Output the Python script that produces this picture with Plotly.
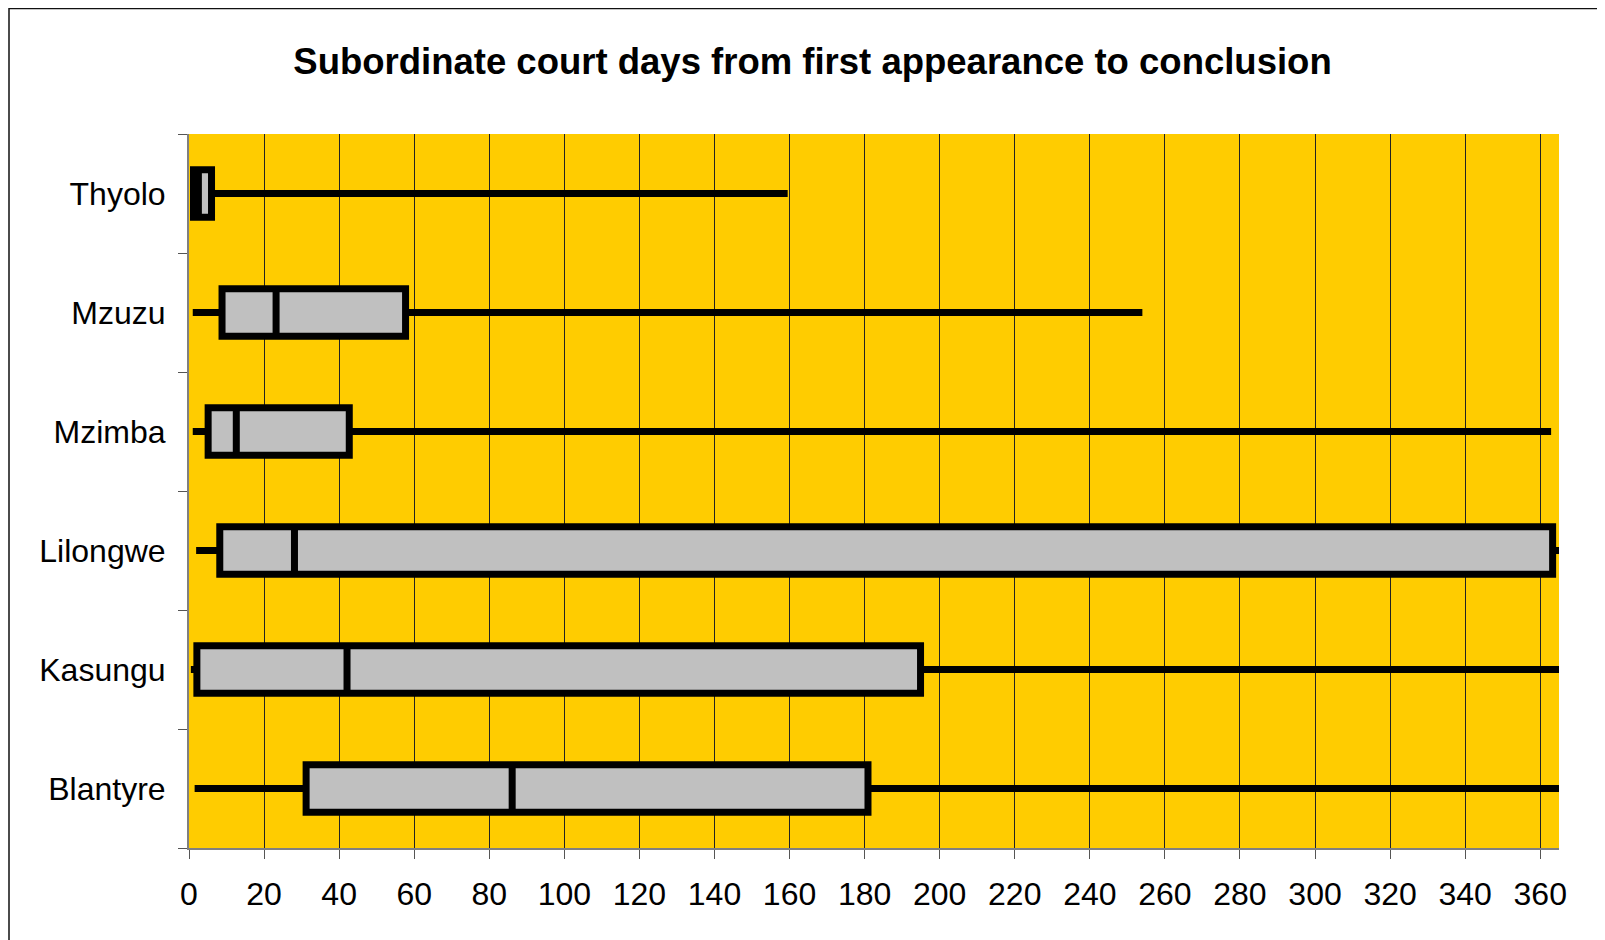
import plotly.graph_objects as go

# Courts listed bottom-to-top (first category is drawn at the bottom)
courts = ["Blantyre", "Kasungu", "Lilongwe", "Mzimba", "Mzuzu", "Thyolo"]
min_days = [1.5, 0.5, 1.9, 1.0, 1.0, 0.8]
q1_days = [31.2, 2.1, 8.2, 5.1, 8.8, 1.2]
median_days = [86.1, 42.1, 28.1, 12.6, 23.2, 2.5]
q3_days = [180.9, 194.9, 363.3, 42.7, 57.7, 6.0]
max_days = [400.0, 400.0, 400.0, 362.9, 254.0, 159.5]

x_ticks = list(range(0, 361, 20))

# page body has an 8px margin, so the figure is slightly smaller than the window
W, H = 1597, 932
ML, MR, MT, MB = 181, 46, 126, 92
PW, PH = W - ML - MR, H - MT - MB

fig = go.Figure()
fig.add_trace(go.Box(
    y=courts,
    q1=q1_days, median=median_days, q3=q3_days,
    lowerfence=min_days, upperfence=max_days,
    orientation="h",
    boxpoints=False,
    whiskerwidth=0,
    width=0.4,
    fillcolor="#C0C0C0",
    line=dict(color="black", width=7),
    showlegend=False,
    hoverinfo="skip",
))

font_family = "Liberation Sans, Arial, sans-serif"

fig.update_layout(
    width=W, height=H,
    margin=dict(l=ML, r=MR, t=MT, b=MB),
    paper_bgcolor="white",
    plot_bgcolor="#FFCC00",
    title=dict(
        text="<b>Subordinate court days from first appearance to conclusion</b>",
        font=dict(family=font_family, size=36.5, color="black"),
        x=804.5 / W, xref="container", xanchor="center",
        y=1 - 53 / H, yref="container", yanchor="middle",
    ),
    xaxis=dict(
        range=[0, 365],
        tickvals=x_ticks,
        ticktext=[str(v) for v in x_ticks],
        showgrid=True, gridcolor="#222222", gridwidth=1,
        zeroline=False,
        showline=True, linecolor="#808080", linewidth=2,
        ticks="outside", ticklen=9, tickcolor="#555555", tickwidth=1,
        tickfont=dict(family=font_family, size=32, color="black"),
        ticklabelstandoff=8,
        fixedrange=True,
    ),
    yaxis=dict(
        type="category",
        categoryorder="array", categoryarray=courts,
        range=[-0.5, len(courts) - 0.5],
        tickson="boundaries",
        showgrid=False, zeroline=False,
        showline=True, linecolor="#808080", linewidth=2,
        ticks="outside", ticklen=9, tickcolor="#555555", tickwidth=1,
        tickfont=dict(family=font_family, size=32, color="black"),
        ticklabelstandoff=15,
        fixedrange=True,
    ),
    shapes=[dict(
        type="rect", xref="paper", yref="paper",
        x0=(1 - ML) / PW, x1=(W + 30 - ML) / PW,
        y0=(H - MB - (H + 30)) / PH, y1=(H - MB - 0.5) / PH,
        line=dict(color="#111111", width=1.5),
        fillcolor="rgba(0,0,0,0)", layer="below",
    )],
)

fig.write_html("out.html")
